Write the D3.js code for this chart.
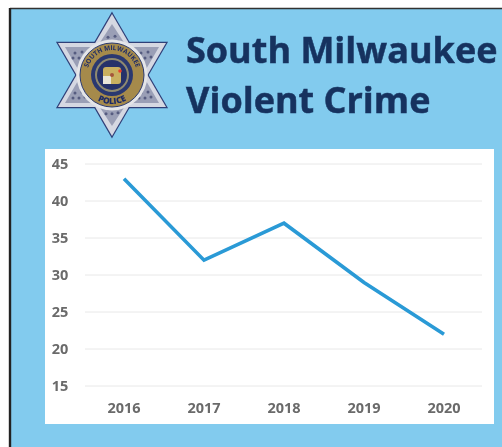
<!DOCTYPE html>
<html>
<head>
    <title>South Milwaukee Violent Crime</title>
    <script src="https://d3js.org/d3.v7.min.js"></script>
    <style>
        html, body { margin: 0; padding: 0; background: #fff; overflow: hidden; }
        svg { display: block; }
        .tick-label { font-family: "Open Sans", sans-serif; font-size: 14.5px; font-weight: 700; fill: #6b6b6b; }
        .title { font-family: "Open Sans", sans-serif; font-size: 36px; font-weight: 700; fill: #17335f; stroke: #17335f; stroke-width: 0.5px; }
    </style>
</head>
<body>
<script>
    const years = ["2016", "2017", "2018", "2019", "2020"];
    const crimes = [43, 32, 37, 29, 22];
    const yTicks = [15, 20, 25, 30, 35, 40, 45];
    const titleLines = ["South Milwaukee", "Violent Crime"];

    const width = 502;
    const height = 447;

    const svg = d3.select("body")
        .append("svg")
        .attr("width", width)
        .attr("height", height);

    const defs = svg.append("defs");
    defs.append("filter").attr("id", "soft")
        .append("feGaussianBlur").attr("stdDeviation", 0.45);
    // paths for the lettering round the badge
    defs.append("path").attr("id", "arcTop").attr("d", "M 87 75 A 25 25 0 0 1 137 75");
    defs.append("path").attr("id", "arcBottom").attr("d", "M 83 80 A 29.5 29.5 0 0 0 141 80");

    const page = svg.append("g").attr("filter", "url(#soft)");

    // page background and the black frame
    page.append("rect").attr("x", 10).attr("y", 9).attr("width", width).attr("height", height).attr("fill", "#82cbee");
    page.append("line").attr("x1", 10).attr("x2", width).attr("y1", 8.5).attr("y2", 8.5).attr("stroke", "#333").attr("stroke-width", 1.6);
    page.append("line").attr("x1", 10).attr("x2", 10).attr("y1", 8).attr("y2", height).attr("stroke", "#222").attr("stroke-width", 2.4);

    // badge
    const badge = page.append("g");
    const hexagram = [
        [[112, 14], [166, 107], [58, 107]],
        [[112, 136], [166, 43], [58, 43]]
    ];
    hexagram.forEach(pts => {
        badge.append("polygon")
            .attr("points", pts.join(" "))
            .attr("fill", "#d5d8e2")
            .attr("stroke", "#2f3f78")
            .attr("stroke-width", 2.4);
    });
    // hide the crossing outlines inside the star
    hexagram.forEach(pts => {
        badge.append("polygon")
            .attr("points", pts.join(" "))
            .attr("fill", "#d5d8e2")
            .attr("stroke", "none");
    });
    // speckled star arms
    const arms = [
        [[112, 24], [127, 47], [97, 47]],
        [[112, 126], [127, 103], [97, 103]],
        [[65, 47], [93, 47], [79, 71]],
        [[159, 47], [131, 47], [145, 71]],
        [[65, 103], [93, 103], [79, 79]],
        [[159, 103], [131, 103], [145, 79]]
    ];
    arms.forEach(pts => {
        badge.append("polygon").attr("points", pts.join(" ")).attr("fill", "#9a9fb6");
        const cx = d3.mean(pts, p => p[0]), cy = d3.mean(pts, p => p[1]);
        [[-4, -2], [3, -3], [0, 3], [-6, 3], [6, 2]].forEach(o => {
            badge.append("circle").attr("cx", cx + o[0]).attr("cy", cy + o[1]).attr("r", 1.5)
                .attr("fill", "#565c80");
        });
    });
    badge.append("circle").attr("cx", 112).attr("cy", 75).attr("r", 35.5).attr("fill", "#e4e5e8");
    badge.append("circle").attr("cx", 112).attr("cy", 75).attr("r", 32).attr("fill", "#a58a4c").attr("stroke", "#2b3a70").attr("stroke-width", 1);
    badge.append("circle").attr("cx", 112).attr("cy", 75).attr("r", 21).attr("fill", "#2a3870");
    badge.append("circle").attr("cx", 112).attr("cy", 75).attr("r", 17).attr("fill", "#8f8a70");
    badge.append("circle").attr("cx", 112).attr("cy", 75).attr("r", 15).attr("fill", "#26336b");
    badge.append("rect").attr("x", 103).attr("y", 67).attr("width", 18).attr("height", 17).attr("rx", 3).attr("fill", "#c9b060");
    badge.append("rect").attr("x", 103).attr("y", 76).attr("width", 8).attr("height", 8).attr("fill", "#e9e6d8");
    badge.append("circle").attr("cx", 112).attr("cy", 75).attr("r", 2).attr("fill", "#a5573a");
    badge.append("circle").attr("cx", 120).attr("cy", 71).attr("r", 1.8).attr("fill", "#e8402a");

    badge.append("text")
        .attr("font-family", "Open Sans, sans-serif").attr("font-size", 6.5).attr("font-weight", 700).attr("fill", "#1f2c66")
        .append("textPath").attr("href", "#arcTop").attr("startOffset", "50%").attr("text-anchor", "middle")
        .text("SOUTH MILWAUKEE");
    badge.append("text")
        .attr("font-family", "Open Sans, sans-serif").attr("font-size", 8.5).attr("font-weight", 800).attr("fill", "#1f2c66")
        .append("textPath").attr("href", "#arcBottom").attr("startOffset", "50%").attr("text-anchor", "middle")
        .text("POLICE");

    // title
    page.selectAll(".title")
        .data(titleLines)
        .join("text")
        .attr("class", "title")
        .attr("x", 186)
        .attr("y", (d, i) => 63 + i * 50)
        .text(d => d);

    // white chart panel
    page.append("rect").attr("x", 45).attr("y", 149).attr("width", 449).attr("height", 275).attr("fill", "#fff");

    const x = d3.scalePoint().domain(years).range([124, 444]);
    const y = d3.scaleLinear().domain([15, 45]).range([386, 164]);

    page.selectAll(".grid")
        .data(yTicks)
        .join("line")
        .attr("class", "grid")
        .attr("x1", 85)
        .attr("x2", 482)
        .attr("y1", d => y(d))
        .attr("y2", d => y(d))
        .attr("stroke", "#e8e8e8")
        .attr("stroke-width", 1);

    page.selectAll(".y-label")
        .data(yTicks)
        .join("text")
        .attr("class", "tick-label y-label")
        .attr("x", 60)
        .attr("y", d => y(d) + 5)
        .attr("text-anchor", "middle")
        .text(d => d);

    page.selectAll(".x-label")
        .data(years)
        .join("text")
        .attr("class", "tick-label x-label")
        .attr("x", d => x(d))
        .attr("y", 413)
        .attr("text-anchor", "middle")
        .text(d => d);

    const line = d3.line()
        .x((d, i) => x(years[i]))
        .y(d => y(d));

    page.append("path")
        .datum(crimes)
        .attr("d", line)
        .attr("fill", "none")
        .attr("stroke", "#2a9ad6")
        .attr("stroke-width", 3.6)
        .attr("stroke-linejoin", "miter");
</script>
</body>
</html>
